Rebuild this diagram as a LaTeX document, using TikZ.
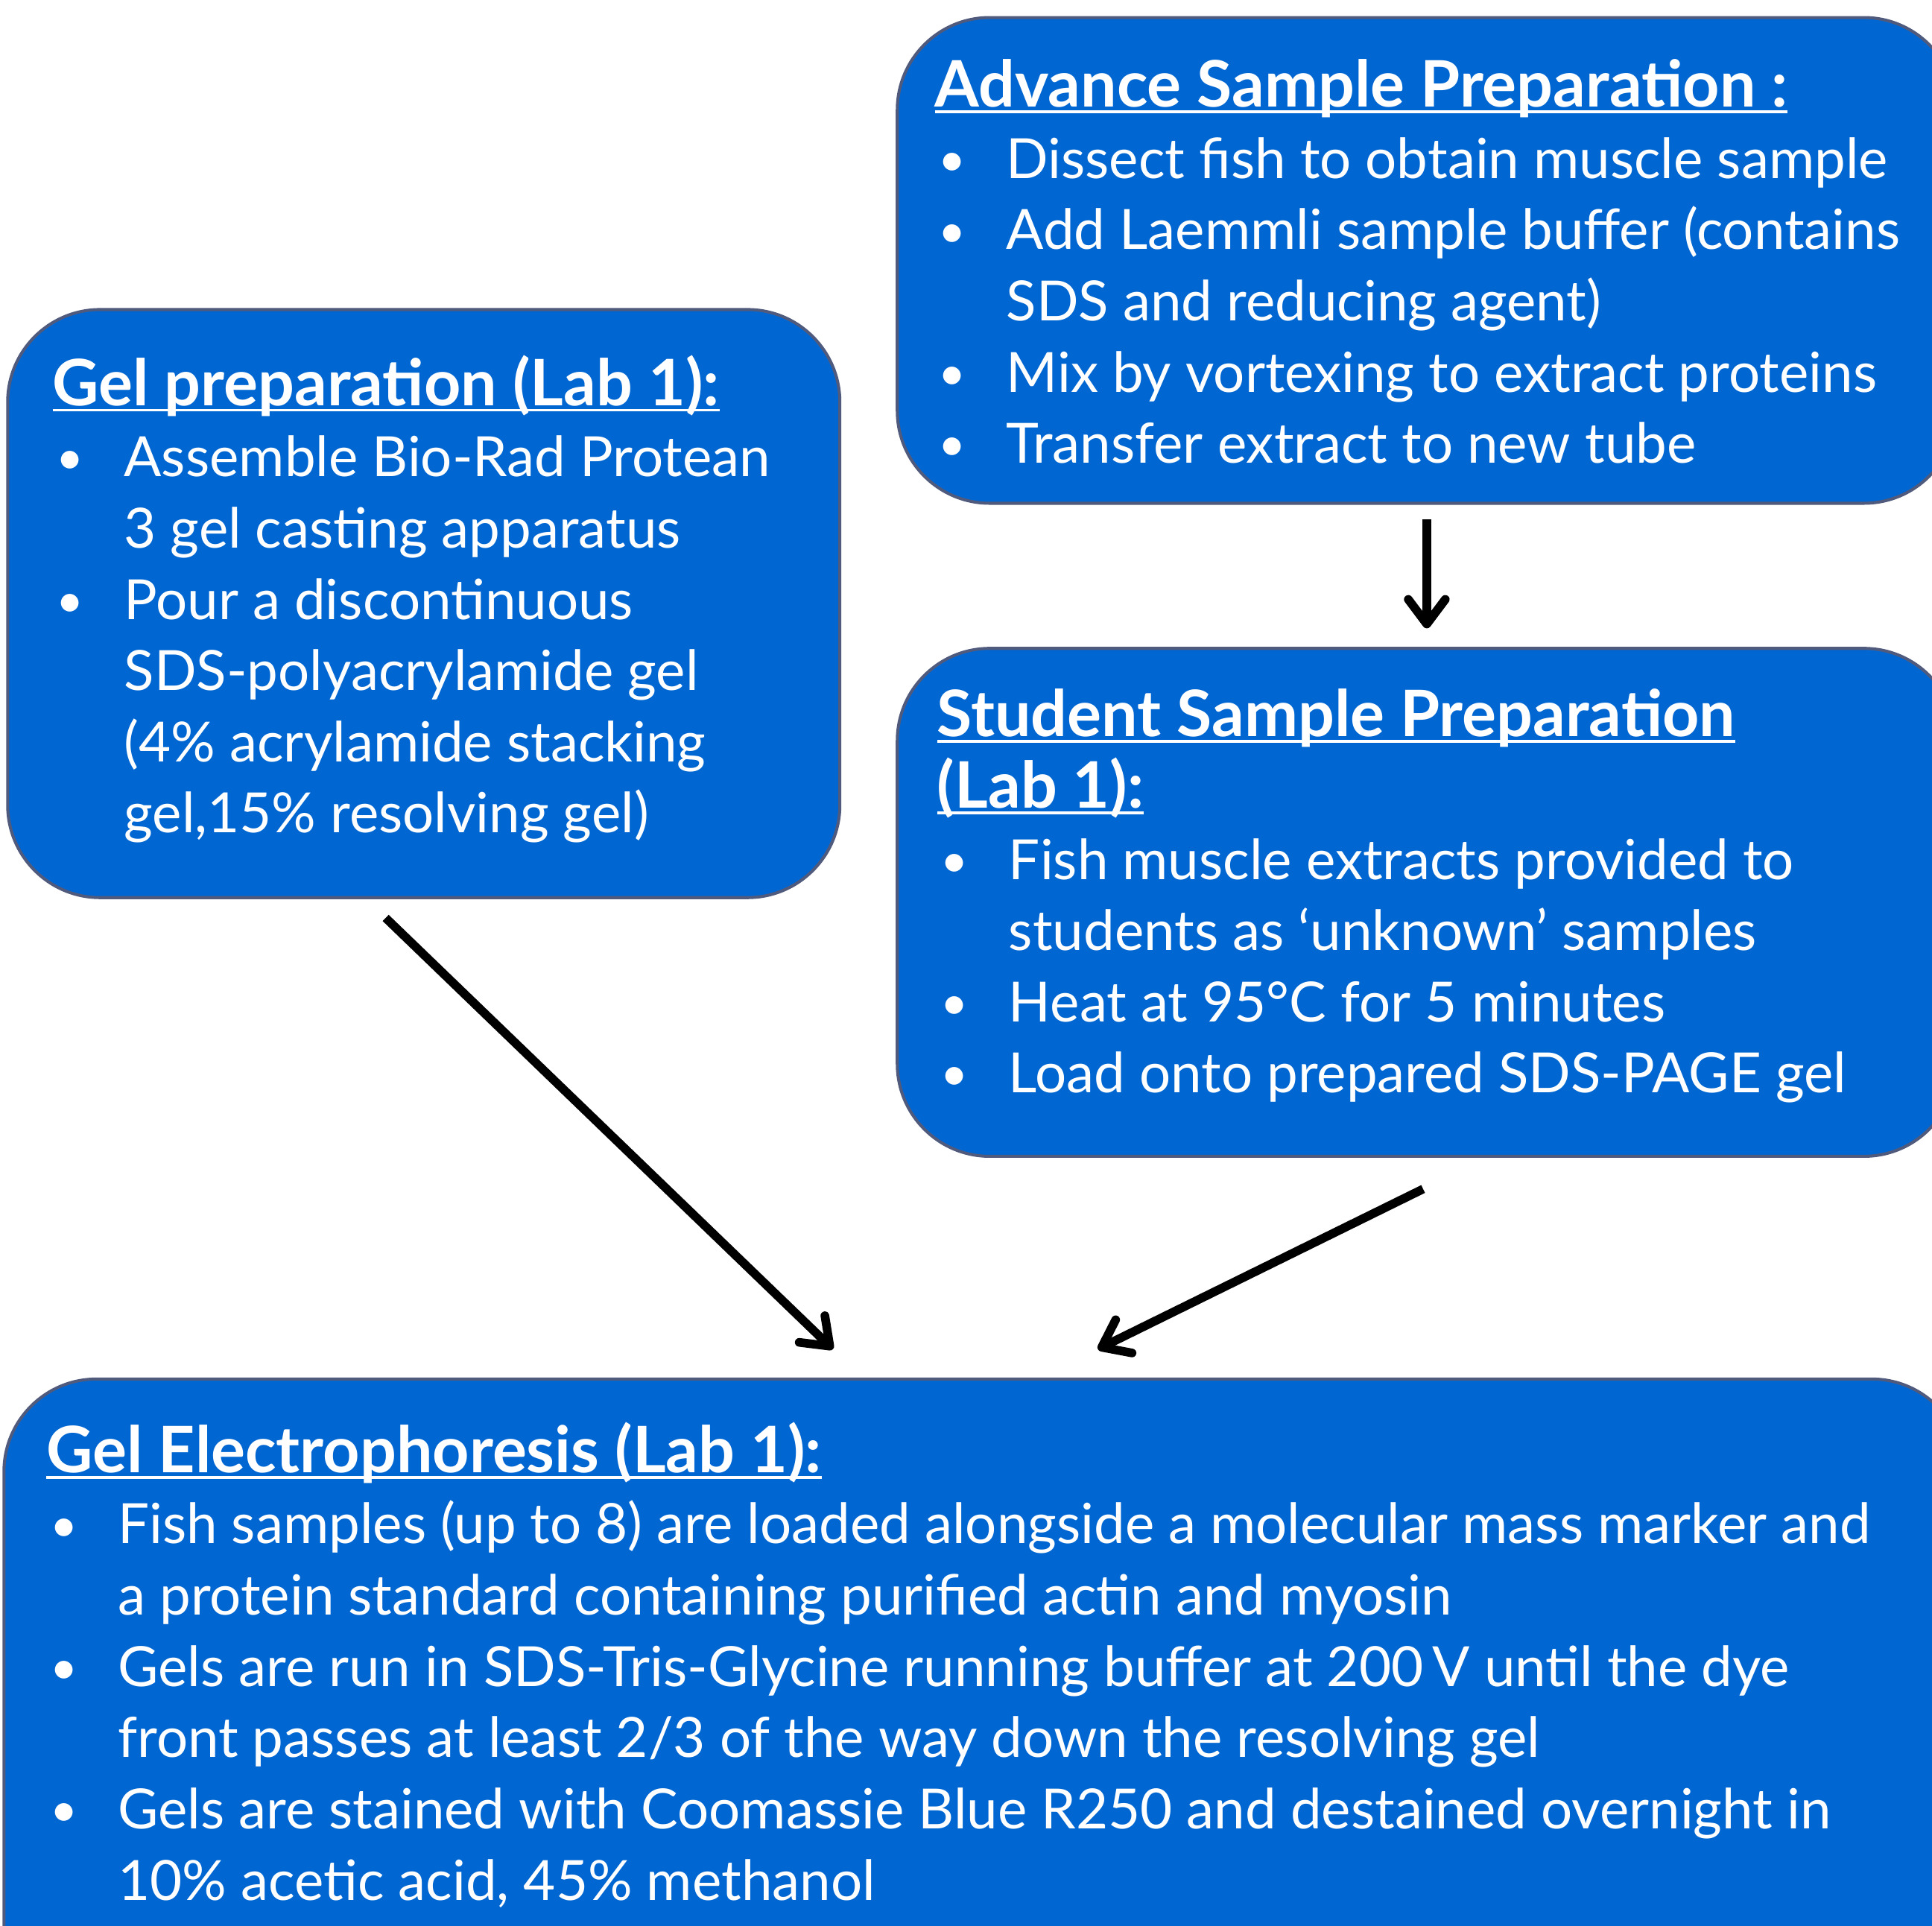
\documentclass[tikz,border=0pt]{standalone}
\usepackage{fontspec}
\setmainfont{Lato}
\usetikzlibrary{arrows.meta}
\tikzset {>={Straight Barb[length=0.2cm,width=0.3cm,round]}}
\definecolor{boxblue}{RGB}{0,102,210}
\definecolor{boxline}{RGB}{80,90,125}
\newcommand{\bl}{\makebox[0.58cm][l]{\hspace{0.03cm}%
  {\fontsize{11}{11}\selectfont\raisebox{0.5pt}{\textbullet}}}}
\newcommand{\ind}{\hspace*{0.58cm}}
\newcommand{\ulin}[1]{\leavevmode\setbox0=\hbox{\fontsize{14.8}{16}\selectfont\bfseries #1}%
  \rlap{\rule[-1.4pt]{\wd0}{0.6pt}}\box0}

\begin{document}
\begin{tikzpicture}[x=0.01cm,y=-0.01cm,
  box/.style={draw=boxline,line width=0.7pt,fill=boxblue,
    rounded corners=0.75cm,anchor=north west,inner sep=0pt},
  txt/.style={text=white,anchor=base west,align=left,inner sep=0pt,
    font=\fontsize{12.8}{16.44}\selectfont},
  arr/.style={->,line width=2pt,black}]
\useasboundingbox (0,0) rectangle (1568,1563);
\clip (0,0) rectangle (1568,1563);
% boxes
\node[box,minimum width=8.59cm,minimum height=3.94cm] (adv) at (727,13) {};
\node[box,minimum width=6.75cm,minimum height=4.77cm] (prep) at (5,250) {};
\node[box,minimum width=8.59cm,minimum height=4.12cm] (stud) at (727,525) {};
\node[box,minimum width=15.9cm,minimum height=5.2cm] (elec) at (2,1118) {};
% texts (placed at the baseline of their last line)
\node[txt] (advText) at (758,376) {\ulin{Advance Sample Preparation :}\\
  \bl Dissect fish to obtain muscle sample\\
  \bl Add Laemmli sample buffer (contains\\
  \ind SDS and reducing agent)\\
  \bl Mix by vortexing to extract proteins\\
  \bl Transfer extract to new tube};
\node[txt] (prepText) at (42,676) {\ulin{Gel preparation (Lab 1):}\\
  \bl Assemble Bio-Rad Protean\\
  \ind 3 gel casting apparatus\\
  \bl Pour a discontinuous\\
  \ind SDS-polyacrylamide gel\\
  \ind (4\% acrylamide stacking\\
  \ind gel,15\% resolving gel)};
\node[txt] (studText) at (760,887) {\ulin{Student Sample Preparation}\\
  \ulin{(Lab 1):}\\
  \bl Fish muscle extracts provided to\\
  \ind students as `unknown' samples\\
  \bl Heat at 95°C for 5 minutes\\
  \bl Load onto prepared SDS-PAGE gel};
\node[txt] (elecText) at (37,1542) {\ulin{Gel Electrophoresis (Lab 1):}\\
  \bl Fish samples (up to 8) are loaded alongside a molecular mass marker and\\
  \ind a protein standard containing purified actin and myosin\\
  \bl Gels are run in SDS-Tris-Glycine running buffer at 200\,V until the dye\\
  \ind front passes at least 2/3 of the way down the resolving gel\\
  \bl Gels are stained with Coomassie Blue R250 and destained overnight in\\
  \ind 10\% acetic acid, 45\% methanol};
% arrows
\coordinate (prepOut) at (313,745);
\coordinate (prepIn) at (676,1095);
\coordinate (studOut) at (1155,965);
\coordinate (studIn) at (891,1095);
\draw[arr,shorten <=0.12cm,shorten >=0.15cm] (adv) -- (stud);
\draw[arr] (prepOut) -- (prepIn);
\draw[arr] (studOut) -- (studIn);
\end{tikzpicture}
\end{document}
